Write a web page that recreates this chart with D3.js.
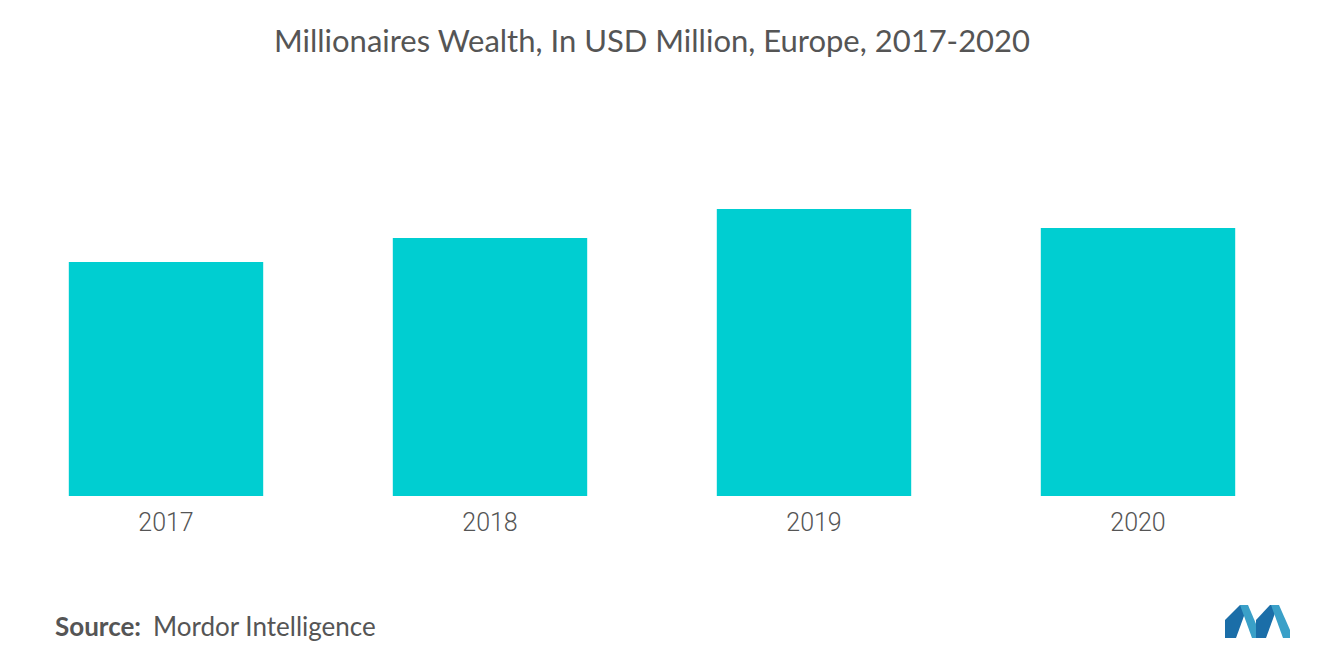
<!DOCTYPE html>
<html><head><meta charset="utf-8">
<script src="https://cdn.jsdelivr.net/npm/d3@7"></script>
<style>body{margin:0;background:#fff;}svg{display:block;font-family:Lato,sans-serif;}</style>
</head><body>
<svg id="c" width="1320" height="665"></svg>
<script>
const categories = ["2017","2018","2019","2020"];
const values = [23.4, 25.8, 28.7, 26.8];
const title = "Millionaires Wealth, In USD Million, Europe, 2017-2020";

const svg = d3.select("#c");
const x = d3.scaleBand().domain(categories).range([4,1300]).paddingInner(0.4).paddingOuter(0.2);
const y = d3.scaleLinear().domain([0,34.6]).range([496,150]);

svg.append("text").attr("x",652).attr("y",52).attr("text-anchor","middle")
  .attr("font-size",31).attr("fill","#555").text(title);

svg.selectAll("rect.bar").data(values).enter().append("rect").attr("class","bar")
  .attr("x",(d,i)=>x(categories[i])).attr("width",x.bandwidth())
  .attr("y",d=>y(d)).attr("height",d=>y(0)-y(d)).attr("fill","#00ced1");

const ax = svg.append("g").attr("transform","translate(0,496)").call(d3.axisBottom(x).tickSize(0).tickPadding(17));
ax.select(".domain").remove();
ax.selectAll("text").attr("font-size",25).attr("fill","#555").attr("font-family","Roboto,sans-serif").attr("font-weight",300);

svg.append("text").attr("x",55).attr("y",636).attr("font-size",26).attr("fill","#555")
  .html('<tspan font-weight="bold">Source:</tspan><tspan dx="12">Mordor Intelligence</tspan>');

const g = svg.append("g");
g.append("polygon").attr("points","1225,638 1225,620 1240,605 1248,605 1236,638").attr("fill","#1b6ea8");
g.append("polygon").attr("points","1240,605 1248,605 1262,638 1252,638").attr("fill","#3aa0c8");
g.append("polygon").attr("points","1256,638 1256,620 1270,605 1278,605 1266,638").attr("fill","#1b6ea8");
g.append("polygon").attr("points","1271,605 1279,605 1290,630 1290,638 1283,638").attr("fill","#3aa0c8");
</script>
</body></html>
